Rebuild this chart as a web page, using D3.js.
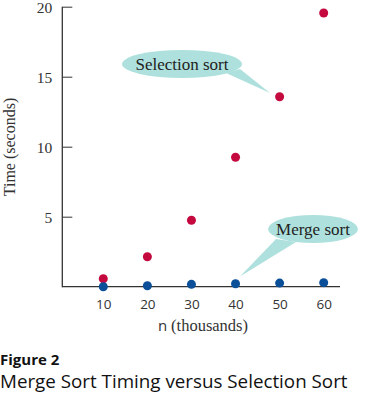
<!DOCTYPE html>
<html><head><meta charset="utf-8">
<script src="https://cdn.jsdelivr.net/npm/d3@7"></script>
<style>body{margin:0;background:#fff}svg{display:block}</style>
</head><body>
<script>
const nValues = [10, 20, 30, 40, 50, 60];
const selectionSort = [0.57, 2.14, 4.75, 9.25, 13.57, 19.55];
const mergeSort = [0.0, 0.07, 0.17, 0.21, 0.26, 0.29];
const xTicks = [10, 20, 30, 40, 50, 60];
const yTicks = [5, 10, 15, 20];

const W = 367, H = 394;
const svg = d3.select("body").append("svg").attr("width", W).attr("height", H);
const x = d3.scaleLinear().domain([0, 60]).range([59.2, 323.7]);
const y = d3.scaleLinear().domain([0, 20]).range([286.7, 6.7]);
const serif = "'Liberation Serif', 'DejaVu Serif', serif";
const sans = "'Open Sans', 'DejaVu Sans', sans-serif";

// bubbles
const bubbleFill = "#aee1dd";
function bubble(cx, cy, rx, ry, tail, label) {
  const g = svg.append("g");
  g.append("path").attr("d", d3.line()(tail) + "Z").attr("fill", bubbleFill);
  g.append("ellipse").attr("cx", cx).attr("cy", cy).attr("rx", rx).attr("ry", ry).attr("fill", bubbleFill);
  g.append("text").attr("x", cx).attr("y", cy + 5.5).attr("text-anchor", "middle")
    .attr("font-family", serif).attr("font-size", 17).attr("fill", "#222").text(label);
}
bubble(182, 64, 60, 14, [[226, 73], [240, 69], [270, 93]], "Selection sort");
bubble(313, 229, 45, 14, [[276, 239], [296, 242], [240, 276.5]], "Merge sort");

// axes
const gx = svg.append("g").attr("transform", `translate(0,${y(0)})`)
  .call(d3.axisBottom(x).tickValues(xTicks).tickSizeInner(-4).tickSizeOuter(0).tickPadding(13));
gx.select(".domain").remove();
gx.selectAll("line").attr("stroke", "#333");
gx.selectAll("text").attr("font-family", sans).attr("font-size", 13.5).attr("fill", "#333");
svg.append("line").attr("x1", 62.3).attr("x2", 340).attr("y1", y(0)).attr("y2", y(0))
  .attr("stroke", "#333").attr("stroke-width", 1.3);

const gy = svg.append("g").attr("transform", `translate(62.3,0)`)
  .call(d3.axisLeft(y).tickValues(yTicks).tickSizeInner(-10).tickSizeOuter(0).tickPadding(10));
gy.select(".domain").remove();
gy.selectAll("line").attr("stroke", "#333");
gy.selectAll("text").attr("font-family", serif).attr("font-size", 15.5).attr("fill", "#333")
  .attr("dy", "0.4em");
svg.append("line").attr("x1", 62.3).attr("x2", 62.3).attr("y1", y(20)).attr("y2", y(0) + 0.6)
  .attr("stroke", "#333").attr("stroke-width", 1.3);

// axis titles
svg.append("text").attr("transform", "translate(15,147) rotate(-90)").attr("text-anchor", "middle")
  .attr("font-family", serif).attr("font-size", 16).attr("fill", "#333").text("Time (seconds)");
const xt = svg.append("text").attr("x", 203).attr("y", 331).attr("text-anchor", "middle")
  .attr("font-size", 16.5).attr("fill", "#333");
xt.append("tspan").attr("font-family", sans).attr("font-size", 15).text("n ");
xt.append("tspan").attr("font-family", serif).text("(thousands)");

// points
svg.append("g").selectAll("circle").data(nValues).join("circle")
  .attr("cx", d => x(d)).attr("cy", (d, i) => y(selectionSort[i])).attr("r", 4.5).attr("fill", "#c4093f");
svg.append("g").selectAll("circle").data(nValues).join("circle")
  .attr("cx", d => x(d)).attr("cy", (d, i) => y(mergeSort[i])).attr("r", 4.5).attr("fill", "#0a4f98");

// caption
svg.append("text").attr("x", 0).attr("y", 365).attr("font-family", sans).attr("font-weight", "bold")
  .attr("font-size", 15).attr("fill", "#111").text("Figure 2");
svg.append("text").attr("x", 0).attr("y", 388).attr("font-family", sans)
  .attr("font-size", 18.8).attr("fill", "#111").text("Merge Sort Timing versus Selection Sort");
</script>
</body></html>
